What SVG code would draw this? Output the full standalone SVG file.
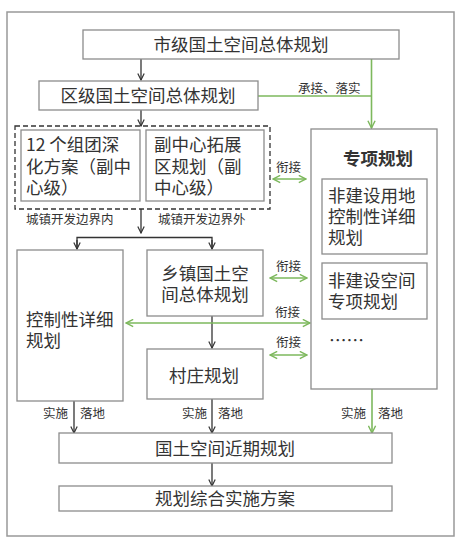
<svg xmlns="http://www.w3.org/2000/svg" width="459" height="545" viewBox="0 0 459 545">
<style>
.box{fill:#fff;stroke:#8c8c8c;stroke-width:1.3}
.t{font-family:"Noto Sans CJK SC","Noto Sans",sans-serif;font-size:17.5px;fill:#333}
.s{font-family:"Noto Sans CJK SC","Noto Sans",sans-serif;font-size:12.5px;fill:#333}
.c{text-anchor:middle}
.k{stroke:#333;stroke-width:1.3;fill:none}
.g{stroke:#7db85d;stroke-width:1.6;fill:none}
</style>
<defs>
<marker id="ak" viewBox="0 0 10 10" refX="9" refY="5" markerWidth="8" markerHeight="8" markerUnits="userSpaceOnUse" orient="auto-start-reverse">
<path d="M1,1 L9,5 L1,9" fill="none" stroke="#333" stroke-width="1.5"/>
</marker>
<marker id="ag" viewBox="0 0 10 10" refX="9" refY="5" markerWidth="9" markerHeight="9" markerUnits="userSpaceOnUse" orient="auto-start-reverse">
<path d="M1,1 L9,5 L1,9" fill="none" stroke="#7db85d" stroke-width="1.6"/>
</marker>
</defs>
<rect x="7" y="12" width="447" height="524" fill="#fff" stroke="#999" stroke-width="1.5"/>

<g id="connectors">
<line class="k" x1="141" y1="59" x2="141" y2="80" marker-end="url(#ak)"/>
<line class="k" x1="141" y1="110" x2="141" y2="126" marker-end="url(#ak)"/>
<polyline class="g" points="258,96 371.5,96"/>
<line class="g" x1="371.5" y1="59" x2="371.5" y2="128" marker-end="url(#ag)"/>
<text class="s" x="298" y="92.5">承接、落实</text>
<line class="g" x1="273" y1="179" x2="306" y2="179" marker-start="url(#ag)" marker-end="url(#ag)"/>
<text class="s c" x="288.5" y="171.5">衔接</text>
<text class="s" x="26" y="223.5">城镇开发边界内</text>
<text class="s" x="158" y="223.5">城镇开发边界外</text>
<line class="k" x1="141" y1="209" x2="141" y2="233" marker-end="url(#ak)"/>
<polyline class="k" points="77,249 77,237.5 212,237.5 212,249"/>
<line class="k" x1="77" y1="240" x2="77" y2="249" marker-end="url(#ak)"/>
<line class="k" x1="212" y1="240" x2="212" y2="249" marker-end="url(#ak)"/>
<line class="k" x1="212" y1="316" x2="212" y2="348" marker-end="url(#ak)"/>
<line class="g" x1="270" y1="278" x2="307" y2="278" marker-start="url(#ag)" marker-end="url(#ag)"/>
<text class="s c" x="288.5" y="270.5">衔接</text>
<line class="g" x1="126" y1="323" x2="310" y2="323" marker-start="url(#ag)" marker-end="url(#ag)"/>
<text class="s c" x="287.5" y="316.5">衔接</text>
<line class="g" x1="270" y1="355" x2="307" y2="355" marker-start="url(#ag)" marker-end="url(#ag)"/>
<text class="s c" x="288.5" y="346.5">衔接</text>
<line class="k" x1="74" y1="401" x2="74" y2="433" marker-end="url(#ak)"/>
<line class="k" x1="212" y1="399" x2="212" y2="433" marker-end="url(#ak)"/>
<line class="g" x1="372" y1="389" x2="372" y2="433" marker-end="url(#ag)"/>
<text class="s" x="43" y="417.5">实施</text>
<text class="s" x="80" y="417.5">落地</text>
<text class="s" x="182" y="417.5">实施</text>
<text class="s" x="218" y="417.5">落地</text>
<text class="s" x="341" y="417.5">实施</text>
<text class="s" x="378" y="417.5">落地</text>
<line class="k" x1="212" y1="463" x2="212" y2="486" marker-end="url(#ak)"/>
</g>

<g id="city">
<rect class="box" x="83" y="30" width="316" height="29"/>
<text class="t c" x="241" y="51">市级国土空间总体规划</text>
</g>
<g id="district">
<rect class="box" x="39" y="81" width="219" height="29"/>
<text class="t c" x="148" y="102">区级国土空间总体规划</text>
</g>
<g id="dashed">
<rect x="15" y="126" width="255" height="83" fill="none" stroke="#333" stroke-width="1.3" stroke-dasharray="5,3"/>
</g>
<g id="groups">
<rect class="box" x="21" y="130" width="119" height="71"/>
<text class="t" x="26" y="151">12 个组团深</text>
<text class="t" x="26" y="172.5">化方案（副中</text>
<text class="t" x="26" y="194">心级）</text>
</g>
<g id="subcenter">
<rect class="box" x="146" y="130" width="118" height="71"/>
<text class="t" x="154" y="151">副中心拓展</text>
<text class="t" x="154" y="172.5">区规划（副</text>
<text class="t" x="154" y="194">中心级）</text>
</g>
<g id="special">
<rect class="box" x="311" y="129" width="126" height="260"/>
<text class="t c" x="378" y="165" font-weight="bold">专项规划</text>
</g>
<g id="nonbuild1">
<rect class="box" x="322" y="179" width="105" height="75"/>
<text class="t" x="328" y="201.5">非建设用地</text>
<text class="t" x="328" y="222.5">控制性详细</text>
<text class="t" x="328" y="244">规划</text>
</g>
<g id="nonbuild2">
<rect class="box" x="322" y="263" width="105" height="56"/>
<text class="t" x="328" y="286.5">非建设空间</text>
<text class="t" x="328" y="308">专项规划</text>
</g>
<g id="more">
<text class="t" x="329" y="347">……</text>
</g>
<g id="regulatory">
<rect class="box" x="17" y="250" width="106" height="151"/>
<text class="t" x="26" y="326">控制性详细</text>
<text class="t" x="26" y="347">规划</text>
</g>
<g id="township">
<rect class="box" x="147" y="250" width="116" height="66"/>
<text class="t c" x="205" y="280">乡镇国土空</text>
<text class="t c" x="205" y="301">间总体规划</text>
</g>
<g id="village">
<rect class="box" x="147" y="349" width="116" height="50"/>
<text class="t c" x="204" y="382">村庄规划</text>
</g>
<g id="nearterm">
<rect class="box" x="59" y="433" width="333" height="30"/>
<text class="t c" x="225" y="454.5">国土空间近期规划</text>
</g>
<g id="implement">
<rect class="box" x="59" y="486" width="333" height="25"/>
<text class="t c" x="225" y="505">规划综合实施方案</text>
</g>
</svg>
